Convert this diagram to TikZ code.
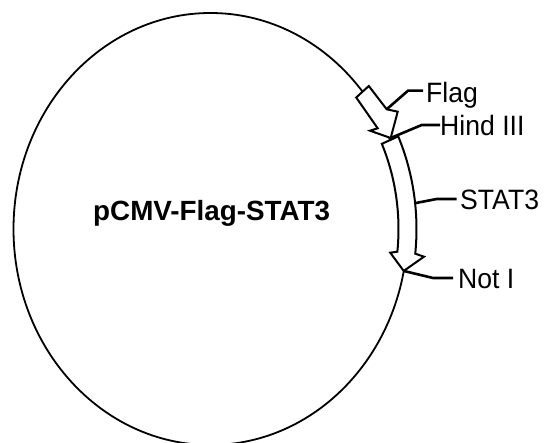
\documentclass[tikz,border=0pt]{standalone}
\usepackage{fontspec}
\setmainfont{Liberation Sans}
\tikzset{
  ring/.style={line width=1.8pt},
  feat/.style={line width=2pt, fill=white, line join=miter},
  leader/.style={line width=2.6pt},
  lbl/.style={inner sep=0pt, anchor=base west, font=\fontsize{28}{28}\selectfont},
  ttl/.style={inner sep=0pt, anchor=base west, font=\bfseries\fontsize{27.8}{28}\selectfont}
}
\begin{document}
\begin{tikzpicture}[x=1pt, y=-1pt]
\useasboundingbox (0,0) rectangle (547,443);
% backbone
\draw[ring] (210.5,229) ellipse [x radius=197, y radius=216];
% Flag arrow
\draw[feat] (356.2,97.5) -- (368.8,86) -- (386.7,109.3) -- (397.7,111.7) -- (390.7,138) -- (370,130.7) -- (377.7,128.3) -- cycle;
% STAT3 arrow
\begin{scope}[shift={(210.5,229)}]
\draw[feat] (-24.3:206 and 225) arc[start angle=-24.3, end angle=6.3, x radius=206, y radius=225]
  -- (6.8:215 and 234) -- (11.2:197 and 216) -- (6.8:181 and 200) -- (6.3:188 and 207)
  arc[start angle=6.3, end angle=-24.3, x radius=188, y radius=207] -- cycle;
\coordinate (stat3side) at (-6.6:206 and 225);
\coordinate (notpt) at (11.2:197 and 216);
\end{scope}
\coordinate (flagside) at (386.7,109.3);
\coordinate (hindpt) at (390.7,138);
% leader bends and ends
\coordinate (flagbend) at (408,90.7);
\coordinate (flagend) at (423,90.7);
\coordinate (hindbend) at (421.7,125);
\coordinate (hindend) at (440,125);
\coordinate (stat3bend) at (436.7,199);
\coordinate (stat3end) at (456.7,199);
\coordinate (notbend) at (433,278);
\coordinate (notend) at (453,278);
% labels
\node[ttl] (title) at (93,220.7) {pCMV-Flag-STAT3};
\node[lbl] (flaglbl) at (426,102.5) {\scalebox{0.95}[1]{Flag}};
\node[lbl] (hindlbl) at (440,136) {\scalebox{0.95}[1]{Hind III}};
\node[lbl] (stat3lbl) at (460,209.3) {\scalebox{0.95}[1]{STAT3}};
\node[lbl] (notlbl) at (458,289) {\scalebox{0.95}[1]{Not I}};
% leaders
\draw[leader] (flagside) -- (flagbend) -- (flagend);
\draw[leader] (hindpt) -- (hindbend) -- (hindend);
\draw[leader] (stat3side) -- (stat3bend) -- (stat3end);
\draw[leader] (notpt) -- (notbend) -- (notend);
\end{tikzpicture}
\end{document}
